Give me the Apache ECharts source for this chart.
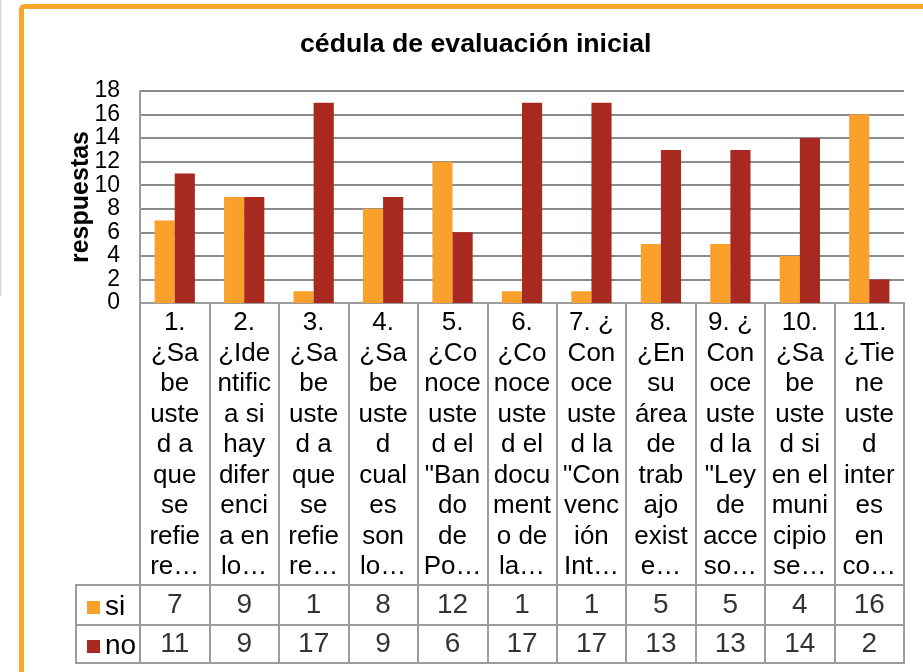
<!DOCTYPE html>
<html>
<head>
<meta charset="utf-8">
<script src="https://cdn.jsdelivr.net/npm/echarts@6/dist/echarts.min.js"></script>
<style>
  html, body { margin: 0; padding: 0; background: #fff; }
  #main { width: 923px; height: 672px; }
</style>
</head>
<body>
<div id="main"></div>
<script>
// preguntas tal como se ven en la tabla (cortadas por Excel)
const categories = [
  '1.\n¿Sa\nbe\nuste\nd a\nque\nse\nrefie\nre…',
  '2.\n¿Ide\nntific\na si\nhay\ndifer\nenci\na en\nlo…',
  '3.\n¿Sa\nbe\nuste\nd a\nque\nse\nrefie\nre…',
  '4.\n¿Sa\nbe\nuste\nd\ncual\nes\nson\nlo…',
  '5.\n¿Co\nnoce\nuste\nd el\n"Ban\ndo\nde\nPo…',
  '6.\n¿Co\nnoce\nuste\nd el\ndocu\nment\no de\nla…',
  '7. ¿\nCon\noce\nuste\nd la\n"Con\nvenc\nión\nInt…',
  '8.\n¿En\nsu\nárea\nde\ntrab\najo\nexist\ne…',
  '9. ¿\nCon\noce\nuste\nd la\n"Ley\nde\nacce\nso…',
  '10.\n¿Sa\nbe\nuste\nd si\nen el\nmuni\ncipio\nse…',
  '11.\n¿Tie\nne\nuste\nd\ninter\nes\nen\nco…'
];
const si = [7, 9, 1, 8, 12, 1, 1, 5, 5, 4, 16];
const no = [11, 9, 17, 9, 6, 17, 17, 13, 13, 14, 2];
const yTicks = { min: 0, max: 18, interval: 2 };

const FONT = 'Liberation Sans, Arial, sans-serif';
const lineCol = '#9c9c9c';
const naranja = '#f9a12a';
const rojo = '#a8291f';

const chart = echarts.init(document.getElementById('main'));

// celdas de la tabla de datos
function tableX(idx) {
  return {
    type: 'category', gridIndex: idx, data: categories,
    axisLine: { show: false }, axisTick: { show: false }, axisLabel: { show: false },
    splitLine: { show: true, interval: 0, lineStyle: { color: lineCol, width: 2 } }
  };
}
function tableY(idx) {
  return {
    type: 'value', gridIndex: idx, min: -1, max: 1,
    axisLine: { show: false }, axisTick: { show: false },
    axisLabel: { show: false }, splitLine: { show: false }
  };
}
function cellSeries(name, idx, vals) {
  return {
    name: name, type: 'scatter', xAxisIndex: idx, yAxisIndex: idx,
    data: vals.map((v, i) => [i, 0, v]),
    symbolSize: 1, itemStyle: { color: 'rgba(0,0,0,0)' }, silent: true,
    label: {
      show: true, position: 'inside', color: '#000',
      fontSize: 28, fontFamily: FONT,
      formatter: p => p.value[2]
    }
  };
}
const gridBox = { show: true, borderColor: lineCol, borderWidth: 2, backgroundColor: 'transparent' };

chart.setOption({
  animation: false,
  textStyle: { fontFamily: FONT },
  title: {
    text: 'cédula de evaluación inicial',
    left: 300, top: 31, padding: 0,
    textStyle: { fontSize: 26.7, fontWeight: 'bold', color: '#000', fontFamily: FONT }
  },
  legend: {
    data: ['si', 'no'],
    orient: 'vertical', left: 82, top: 588,
    itemWidth: 13, itemHeight: 13, itemGap: 10,
    icon: 'rect',
    textStyle: { fontSize: 28, color: '#000', lineHeight: 29, fontFamily: FONT }
  },
  graphic: [
    { type: 'rect', shape: { x: 21.5, y: 6.5, width: 1000, height: 1000, r: 3 },
      style: { fill: null, stroke: '#fba42b', lineWidth: 5 }, silent: true },
    { type: 'line', shape: { x1: 0.5, y1: 0, x2: 0.5, y2: 296 },
      style: { stroke: '#ddd2d1', lineWidth: 1.5 }, silent: true }
  ],
  grid: [
    { left: 140, right: 19, top: 91, height: 212 },
    Object.assign({ left: 140, right: 19, top: 303, height: 282 }, gridBox),
    Object.assign({ left: 140, right: 19, top: 585, height: 40 }, gridBox),
    Object.assign({ left: 140, right: 19, top: 625, height: 38 }, gridBox),
    Object.assign({ left: 76, width: 64, top: 585, height: 40 }, gridBox),
    Object.assign({ left: 76, width: 64, top: 625, height: 38 }, gridBox)
  ],
  xAxis: [
    {
      type: 'category', gridIndex: 0, data: categories,
      axisLine: { lineStyle: { color: lineCol, width: 2 } },
      axisTick: { show: false },
      axisLabel: {
        interval: 0, margin: 5, color: '#000', fontSize: 26,
        lineHeight: 30.5, fontFamily: FONT
      }
    },
    tableX(1), tableX(2), tableX(3)
  ],
  yAxis: [
    {
      type: 'value', gridIndex: 0,
      min: yTicks.min, max: yTicks.max, interval: yTicks.interval,
      name: 'respuestas', nameLocation: 'middle', nameGap: 46, nameMoveOverlap: false,
      nameTextStyle: { fontSize: 25, fontWeight: 'bold', color: '#000', fontFamily: FONT },
      axisLine: { show: true, lineStyle: { color: lineCol, width: 2 } },
      axisTick: { show: false },
      axisLabel: {
        color: '#000', fontSize: 23, margin: 20, fontFamily: FONT,
        showMinLabel: true, showMaxLabel: true, hideOverlap: false
      },
      splitLine: { lineStyle: { color: '#8c8c8c', width: 2 } }
    },
    tableY(1), tableY(2), tableY(3)
  ],
  series: [
    { name: 'si', type: 'bar', data: si, barGap: '0%', barCategoryGap: '42%',
      itemStyle: { color: naranja } },
    { name: 'no', type: 'bar', data: no, itemStyle: { color: rojo } },
    cellSeries('si_tabla', 2, si),
    cellSeries('no_tabla', 3, no)
  ]
});
</script>
</body>
</html>
